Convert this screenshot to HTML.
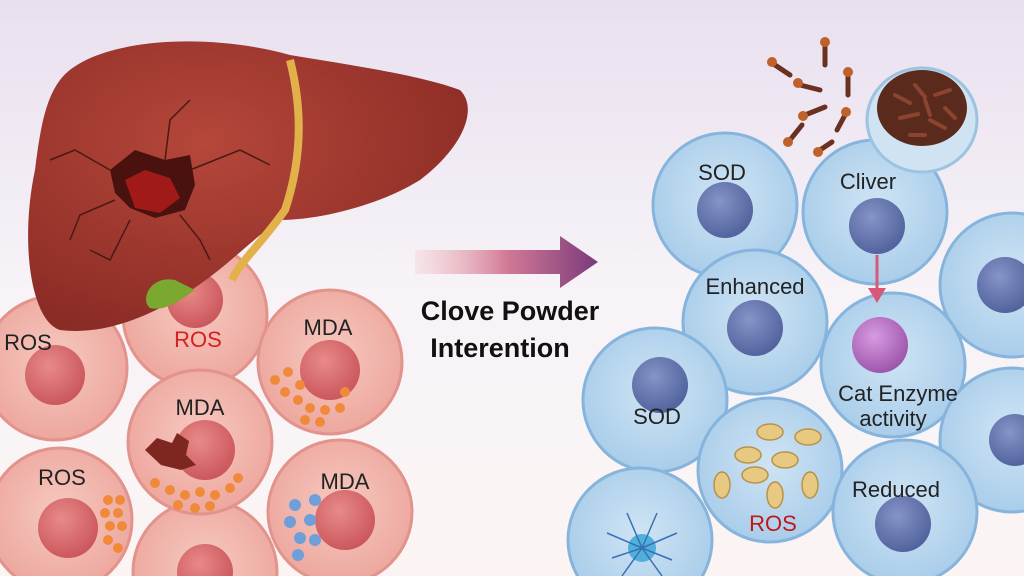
<!DOCTYPE html>
<html><head><meta charset="utf-8"><style>
html,body{margin:0;padding:0;width:1024px;height:576px;overflow:hidden}
svg{display:block}
text{font-family:"Liberation Sans",sans-serif}
</style></head><body>
<svg width="1024" height="576" viewBox="0 0 1024 576" xmlns="http://www.w3.org/2000/svg">
<defs>
<linearGradient id="bg" x1="0" y1="0" x2="0" y2="1">
<stop offset="0" stop-color="#e9e0ef"/><stop offset="0.5" stop-color="#f7f3f7"/><stop offset="1" stop-color="#fbf4f3"/></linearGradient>
<radialGradient id="pc" cx="0.5" cy="0.45" r="0.55"><stop offset="0" stop-color="#f6c9c0"/><stop offset="1" stop-color="#eda79e"/></radialGradient>
<radialGradient id="pn" cx="0.4" cy="0.35" r="0.7"><stop offset="0" stop-color="#e88a88"/><stop offset="1" stop-color="#c9545a"/></radialGradient>
<radialGradient id="bc" cx="0.5" cy="0.45" r="0.55"><stop offset="0" stop-color="#cfe4f4"/><stop offset="1" stop-color="#a9cdea"/></radialGradient>
<radialGradient id="bn" cx="0.4" cy="0.35" r="0.7"><stop offset="0" stop-color="#8595c8"/><stop offset="1" stop-color="#4f5f9a"/></radialGradient>
<radialGradient id="pu" cx="0.4" cy="0.35" r="0.7"><stop offset="0" stop-color="#d79be0"/><stop offset="1" stop-color="#9a52a8"/></radialGradient>
<radialGradient id="lv" cx="0.4" cy="0.35" r="0.7"><stop offset="0" stop-color="#b5473a"/><stop offset="1" stop-color="#8a2b25"/></radialGradient>
<linearGradient id="ar" x1="0" y1="0" x2="1" y2="0"><stop offset="0" stop-color="#f4c6c6" stop-opacity="0.3"/><stop offset="0.5" stop-color="#d27a96"/><stop offset="1" stop-color="#7a3a7a"/></linearGradient>
<g id="pcell"><circle r="72" fill="url(#pc)" stroke="#e2938b" stroke-width="3"/></g>
<g id="bcell"><circle r="72" fill="url(#bc)" stroke="#86b4dc" stroke-width="3"/></g>
</defs>
<rect width="1024" height="576" fill="url(#bg)"/>

<!-- pink cells -->
<g>
<use href="#pcell" x="205" y="572"/><circle cx="205" cy="572" r="28" fill="url(#pn)"/>
<use href="#pcell" x="55" y="368"/><circle cx="55" cy="375" r="30" fill="url(#pn)"/>
<use href="#pcell" x="195" y="315"/><circle cx="195" cy="300" r="28" fill="url(#pn)"/>
<use href="#pcell" x="330" y="362"/><circle cx="330" cy="370" r="30" fill="url(#pn)"/>
<use href="#pcell" x="200" y="442"/><circle cx="205" cy="450" r="30" fill="url(#pn)"/>
<use href="#pcell" x="60" y="520"/><circle cx="68" cy="528" r="30" fill="url(#pn)"/>
<use href="#pcell" x="340" y="512"/><circle cx="345" cy="520" r="30" fill="url(#pn)"/>
<path d="M145 450 l12 -12 l15 5 l5 -10 l12 8 l-3 14 l10 10 l-15 5 l-20 -5 z" fill="#7e2620"/>
<g fill="#f08a3a">
<circle cx="275" cy="380" r="5"/><circle cx="288" cy="372" r="5"/><circle cx="300" cy="385" r="5"/><circle cx="285" cy="392" r="5"/><circle cx="298" cy="400" r="5"/><circle cx="310" cy="408" r="5"/><circle cx="325" cy="410" r="5"/><circle cx="340" cy="408" r="5"/><circle cx="320" cy="422" r="5"/><circle cx="305" cy="420" r="5"/><circle cx="345" cy="392" r="5"/>
<circle cx="155" cy="483" r="5"/><circle cx="170" cy="490" r="5"/><circle cx="185" cy="495" r="5"/><circle cx="200" cy="492" r="5"/><circle cx="215" cy="495" r="5"/><circle cx="230" cy="488" r="5"/><circle cx="178" cy="505" r="5"/><circle cx="195" cy="508" r="5"/><circle cx="210" cy="506" r="5"/><circle cx="238" cy="478" r="5"/>
<circle cx="108" cy="500" r="5"/><circle cx="120" cy="500" r="5"/><circle cx="105" cy="513" r="5"/><circle cx="118" cy="513" r="5"/><circle cx="110" cy="526" r="5"/><circle cx="122" cy="526" r="5"/><circle cx="108" cy="540" r="5"/><circle cx="118" cy="548" r="5"/>
</g>
<g fill="#6f9fd8"><circle cx="295" cy="505" r="6"/><circle cx="315" cy="500" r="6"/><circle cx="290" cy="522" r="6"/><circle cx="310" cy="520" r="6"/><circle cx="300" cy="538" r="6"/><circle cx="315" cy="540" r="6"/><circle cx="298" cy="555" r="6"/></g>
</g>

<!-- liver -->
<path d="M60 80 C90 40 200 30 290 55 C350 65 420 75 460 90 C480 110 460 150 420 180 C380 205 320 220 280 220 C250 240 220 275 175 300 C140 320 100 335 60 330 C30 320 20 240 35 170 C40 130 45 100 60 80 Z" fill="url(#lv)"/>
<path d="M290 60 C300 100 305 150 285 210 C260 245 240 262 232 280" fill="none" stroke="#e3b14a" stroke-width="8"/>
<path d="M175 280 C150 275 140 300 150 308 C165 312 180 300 195 290 Z" fill="#7ba82f"/>
<path d="M110 170 l25 -20 l30 10 l25 -5 l5 30 l-10 25 l-30 8 l-25 -10 l-15 -15 z" fill="#4a120e"/>
<path d="M125 180 l20 -10 l25 8 l10 20 l-20 15 l-25 -5 z" fill="#a01a18"/>
<g stroke="#4a1a14" stroke-width="1.5" fill="none"><path d="M110 170 L75 150 L50 160"/><path d="M165 160 L170 120 L190 100"/><path d="M190 170 L240 150 L270 165"/><path d="M180 215 L200 240 L210 260"/><path d="M130 220 L110 260 L90 250"/><path d="M115 200 L80 215 L70 240"/></g>

<!-- blue cells -->
<use href="#bcell" x="725" y="205"/><circle cx="725" cy="210" r="28" fill="url(#bn)"/>
<use href="#bcell" x="875" y="212"/><circle cx="877" cy="226" r="28" fill="url(#bn)"/>
<use href="#bcell" x="1012" y="285"/><circle cx="1005" cy="285" r="28" fill="url(#bn)"/>
<use href="#bcell" x="755" y="322"/><circle cx="755" cy="328" r="28" fill="url(#bn)"/>
<use href="#bcell" x="893" y="365"/><circle cx="880" cy="345" r="28" fill="url(#pu)"/>
<use href="#bcell" x="655" y="400"/><circle cx="660" cy="385" r="28" fill="url(#bn)"/>
<use href="#bcell" x="1012" y="440"/><circle cx="1015" cy="440" r="26" fill="url(#bn)"/>
<use href="#bcell" x="640" y="540"/><circle cx="642" cy="548" r="14" fill="#4fb0dc"/>
<g stroke="#3a6fb4" stroke-width="1.5"><path d="M642 548 l-35 -15 M642 548 l-30 10 M642 548 l-15 -35 M642 548 l15 -35 M642 548 l35 -15 M642 548 l30 12 M642 548 l-20 28 M642 548 l20 28"/></g>
<use href="#bcell" x="770" y="470"/>
<use href="#bcell" x="905" y="512"/><circle cx="903" cy="524" r="28" fill="url(#bn)"/>
<g fill="#e8c982" stroke="#b8924a" stroke-width="1.5">
<ellipse cx="770" cy="432" rx="13" ry="8"/><ellipse cx="808" cy="437" rx="13" ry="8"/><ellipse cx="748" cy="455" rx="13" ry="8"/><ellipse cx="785" cy="460" rx="13" ry="8"/><ellipse cx="755" cy="475" rx="13" ry="8"/><ellipse cx="722" cy="485" rx="8" ry="13"/><ellipse cx="810" cy="485" rx="8" ry="13"/><ellipse cx="775" cy="495" rx="8" ry="13"/>
</g>
<path d="M877 255 L877 290" stroke="#d8587a" stroke-width="3"/><path d="M868 288 L886 288 L877 303 Z" fill="#d8587a"/>

<!-- clove bowl -->
<ellipse cx="922" cy="120" rx="55" ry="52" fill="#cfe3f2" stroke="#9cc4e2" stroke-width="3"/>
<ellipse cx="922" cy="108" rx="45" ry="38" fill="#5a2a1c"/>
<g stroke="#8a4430" stroke-width="4" stroke-linecap="round"><path d="M895 95 l15 8 M915 85 l10 12 M935 95 l15 -5 M900 118 l18 -4 M930 120 l15 8 M945 108 l10 10 M910 135 l15 0 M925 100 l5 15"/></g>
<g stroke="#6a3020" stroke-width="5" stroke-linecap="round" fill="#8b3a22">
<path d="M775 65 l15 10"/><path d="M800 85 l20 5"/><path d="M825 45 l0 20"/><path d="M805 115 l20 -8"/><path d="M790 140 l12 -15"/><path d="M848 75 l0 20"/><path d="M845 115 l-8 15"/><path d="M820 150 l12 -8"/>
</g>
<g fill="#c0602a"><circle cx="772" cy="62" r="5"/><circle cx="798" cy="83" r="5"/><circle cx="825" cy="42" r="5"/><circle cx="803" cy="116" r="5"/><circle cx="788" cy="142" r="5"/><circle cx="848" cy="72" r="5"/><circle cx="846" cy="112" r="5"/><circle cx="818" cy="152" r="5"/></g>

<!-- arrow -->
<path d="M415 250 L560 250 L560 236 L598 262 L560 288 L560 274 L415 274 Z" fill="url(#ar)"/>
<text x="510" y="320" font-size="27" font-weight="bold" text-anchor="middle" fill="#111">Clove Powder</text>
<text x="500" y="357" font-size="27" font-weight="bold" text-anchor="middle" fill="#111">Interention</text>

<!-- labels -->
<g font-size="22" fill="#222" text-anchor="middle">
<text x="28" y="350">ROS</text>
<text x="198" y="347" fill="#d62020">ROS</text>
<text x="328" y="335">MDA</text>
<text x="200" y="415">MDA</text>
<text x="62" y="485">ROS</text>
<text x="345" y="489">MDA</text>
<text x="722" y="180">SOD</text>
<text x="868" y="189">Cliver</text>
<text x="755" y="294">Enhanced</text>
<text x="898" y="401">Cat Enzyme</text>
<text x="893" y="426">activity</text>
<text x="657" y="424">SOD</text>
<text x="773" y="531" fill="#c01818">ROS</text>
<text x="896" y="497">Reduced</text>
</g>
</svg>
</body></html>
